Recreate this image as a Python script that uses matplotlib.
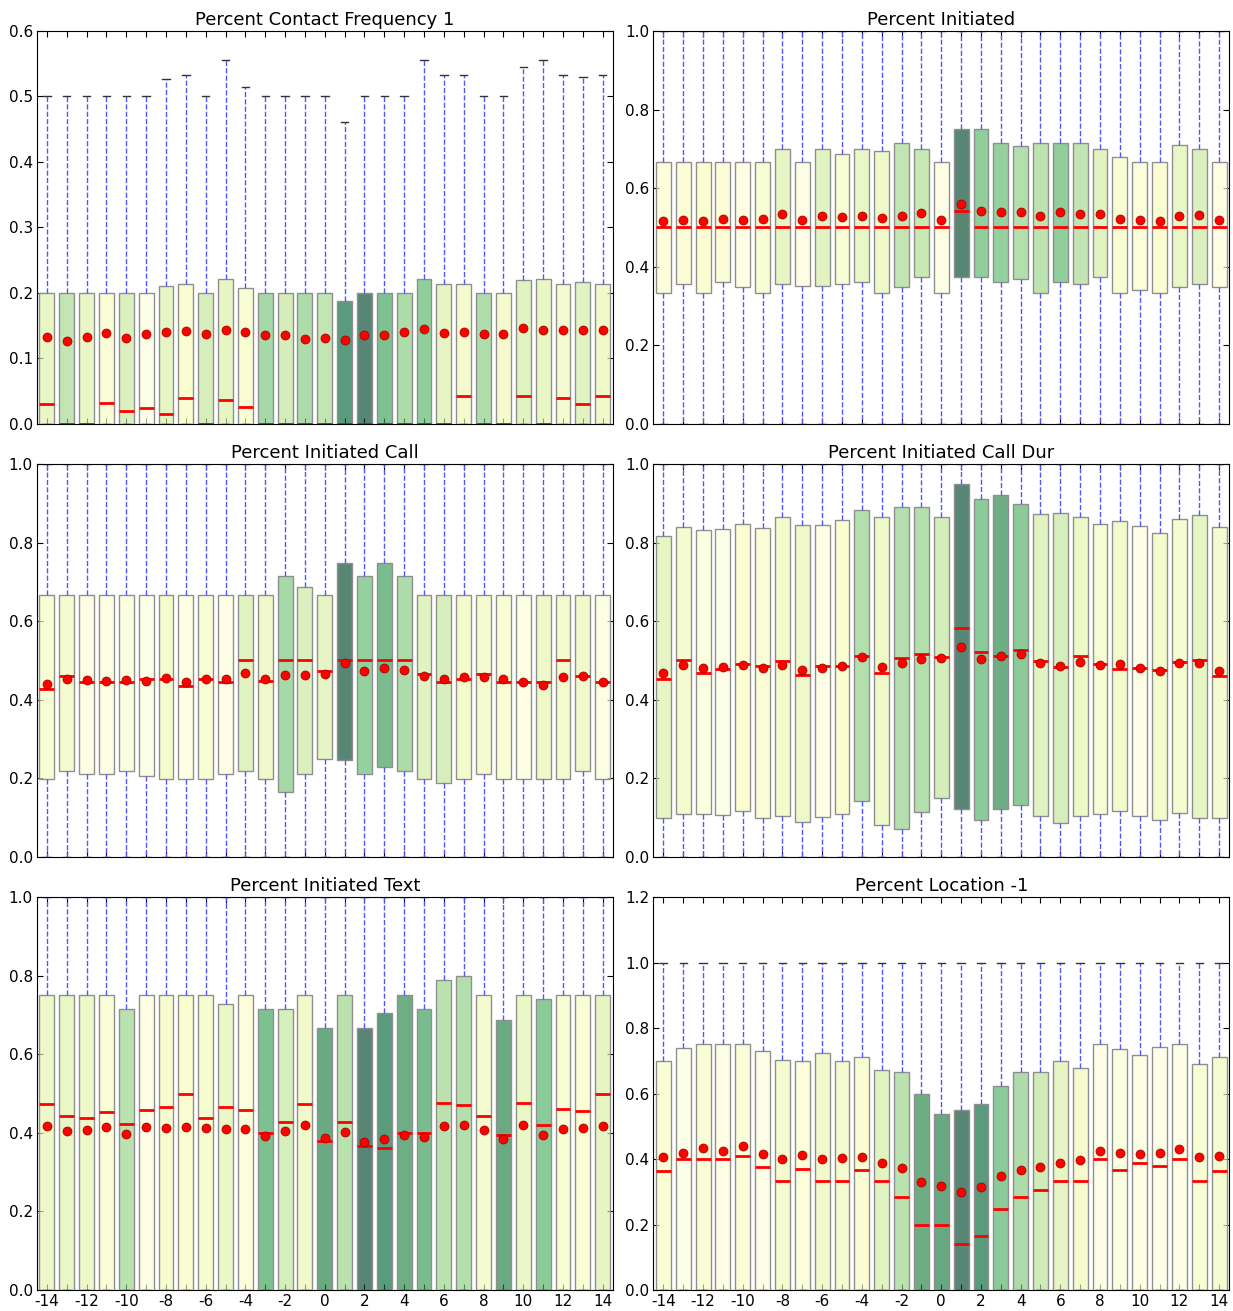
import numpy as np
import matplotlib
matplotlib.use("Agg")
import matplotlib.pyplot as plt
from matplotlib.colors import to_rgba

days = list(range(-14, 15))

# Percent Contact Frequency 1
cf_q1 = [0.0] * 29
cf_q3 = [0.2, 0.2, 0.2, 0.2, 0.2, 0.2, 0.211, 0.214, 0.2, 0.2215, 0.208, 0.2, 0.2, 0.2,
         0.2, 0.1875, 0.2, 0.2, 0.2, 0.2215, 0.214, 0.214, 0.2, 0.2, 0.2195, 0.2215, 0.214, 0.2165, 0.214]
cf_med = [0.031, 0.0, 0.0, 0.032, 0.02, 0.024, 0.015, 0.039, 0.0, 0.037, 0.026, 0.0, 0.0, 0.0,
          0.0, 0.0, 0.0, 0.0, 0.0, 0.0, 0.0, 0.042, 0.0, 0.0, 0.042, 0.0, 0.039, 0.031, 0.042]
cf_mean = [0.133, 0.126, 0.133, 0.139, 0.131, 0.137, 0.140, 0.142, 0.138, 0.144, 0.140, 0.135, 0.135, 0.130,
           0.131, 0.128, 0.136, 0.135, 0.141, 0.145, 0.139, 0.140, 0.137, 0.137, 0.146, 0.144, 0.143, 0.144, 0.144]
cf_lo = [0.0] * 29
cf_hi = [0.5, 0.5, 0.5, 0.5, 0.5, 0.5, 0.527, 0.533, 0.5, 0.555, 0.515, 0.5, 0.5, 0.5,
         0.5, 0.461, 0.5, 0.5, 0.5, 0.555, 0.533, 0.533, 0.5, 0.5, 0.545, 0.555, 0.533, 0.529, 0.533]
cf_shade = [0.23, 0.4, 0.23, 0.1, 0.3, 0.03, 0.25, 0.13, 0.32, 0.25, 0.12, 0.5, 0.33, 0.48,
            0.4, 0.88, 1.0, 0.66, 0.48, 0.58, 0.25, 0.15, 0.47, 0.15, 0.27, 0.23, 0.15, 0.27, 0.18]

# Percent Initiated
in_q1 = [0.333, 0.357, 0.333, 0.362, 0.349, 0.333, 0.357, 0.351, 0.351, 0.357, 0.362, 0.333, 0.349, 0.375,
         0.333, 0.375, 0.375, 0.362, 0.368, 0.333, 0.362, 0.357, 0.375, 0.333, 0.340, 0.333, 0.349, 0.357, 0.349]
in_q3 = [0.666, 0.666, 0.666, 0.666, 0.666, 0.666, 0.7, 0.666, 0.7, 0.687, 0.7, 0.695, 0.714, 0.7,
         0.666, 0.75, 0.75, 0.714, 0.707, 0.714, 0.714, 0.714, 0.7, 0.679, 0.666, 0.666, 0.71, 0.7, 0.666]
in_med = [0.5] * 15 + [0.5415] + [0.5] * 13
in_mean = [0.516, 0.519, 0.516, 0.522, 0.52, 0.522, 0.533, 0.52, 0.528, 0.527, 0.53, 0.525, 0.53, 0.5355,
           0.52, 0.56, 0.542, 0.539, 0.54, 0.53, 0.539, 0.534, 0.533, 0.522, 0.52, 0.517, 0.53, 0.532, 0.519]
in_lo = [0.0] * 29
in_hi = [1.0] * 29
in_shade = [0.08, 0.1, 0.13, 0.1, 0.05, 0.12, 0.25, 0.04, 0.27, 0.12, 0.23, 0.2, 0.4, 0.38,
            0.05, 1.0, 0.58, 0.56, 0.46, 0.42, 0.58, 0.4, 0.27, 0.12, 0.08, 0.13, 0.23, 0.3, 0.05]

# Percent Initiated Call
ca_q1 = [0.198, 0.22, 0.212, 0.212, 0.22, 0.2065, 0.198, 0.198, 0.198, 0.212, 0.22, 0.198, 0.165, 0.212,
         0.25, 0.248, 0.212, 0.229, 0.22, 0.198, 0.189, 0.198, 0.212, 0.198, 0.198, 0.198, 0.198, 0.22, 0.198]
ca_q3 = [0.666] * 12 + [0.7145, 0.687] + [0.666, 0.749, 0.7145, 0.749, 0.714] + [0.666] * 10
ca_med = [0.428, 0.461, 0.444, 0.444, 0.444, 0.454, 0.454, 0.436, 0.454, 0.444, 0.5, 0.449, 0.5, 0.5,
          0.473, 0.5, 0.5, 0.5, 0.5, 0.466, 0.444, 0.454, 0.466, 0.444, 0.444, 0.444, 0.5, 0.461, 0.444]
ca_mean = [0.439, 0.453, 0.450, 0.449, 0.450, 0.449, 0.455, 0.446, 0.452, 0.452, 0.468, 0.453, 0.462, 0.464,
           0.465, 0.4945, 0.473, 0.48, 0.476, 0.46, 0.454, 0.457, 0.458, 0.454, 0.444, 0.4375, 0.458, 0.46, 0.444]
ca_lo = [0.0] * 29
ca_hi = [1.0] * 29
ca_shade = [0.12, 0.15, 0.05, 0.05, 0.06, 0.03, 0.16, 0.05, 0.12, 0.04, 0.27, 0.2, 0.5, 0.3,
            0.25, 1.0, 0.56, 0.68, 0.48, 0.27, 0.32, 0.17, 0.15, 0.12, 0.05, 0.2, 0.17, 0.18, 0.05]

# Percent Initiated Call Dur
du_q1 = [0.099, 0.110, 0.110, 0.107, 0.118, 0.100, 0.103, 0.090, 0.101, 0.110, 0.143, 0.082, 0.070, 0.1155,
         0.151, 0.123, 0.093, 0.121, 0.133, 0.1045, 0.0875, 0.1045, 0.110, 0.118, 0.105, 0.093, 0.111, 0.099, 0.100]
du_q3 = [0.818, 0.840, 0.831, 0.835, 0.847, 0.838, 0.864, 0.844, 0.844, 0.857, 0.884, 0.864, 0.890, 0.890,
         0.864, 0.948, 0.911, 0.922, 0.899, 0.872, 0.875, 0.864, 0.847, 0.854, 0.842, 0.824, 0.860, 0.870, 0.840]
du_med = [0.452, 0.5, 0.469, 0.479, 0.490, 0.486, 0.498, 0.463, 0.486, 0.486, 0.512, 0.469, 0.506, 0.517,
          0.508, 0.583, 0.5225, 0.512, 0.527, 0.4996, 0.483, 0.5106, 0.492, 0.4775, 0.480, 0.476, 0.495, 0.5, 0.461]
du_mean = [0.468, 0.4885, 0.480, 0.4826, 0.489, 0.481, 0.489, 0.475, 0.4817, 0.4868, 0.509, 0.484, 0.4936, 0.5038,
           0.507, 0.5335, 0.504, 0.511, 0.5157, 0.4945, 0.4868, 0.497, 0.4885, 0.491, 0.4817, 0.474, 0.4928, 0.4945, 0.474]
du_lo = [0.0] * 29
du_hi = [1.0] * 29
du_shade = [0.25, 0.15, 0.06, 0.03, 0.13, 0.1, 0.17, 0.2, 0.05, 0.13, 0.46, 0.2, 0.46, 0.46,
            0.33, 1.0, 0.6, 0.75, 0.6, 0.27, 0.32, 0.2, 0.12, 0.17, 0.04, 0.16, 0.14, 0.25, 0.15]

# Percent Initiated Text
tx_q1 = [0.0] * 29
tx_q3 = [0.75, 0.75, 0.75, 0.75, 0.714, 0.75, 0.75, 0.75, 0.75, 0.729, 0.75, 0.714, 0.714, 0.75,
         0.666, 0.75, 0.666, 0.705, 0.75, 0.714, 0.79, 0.80, 0.75, 0.6876, 0.75, 0.74, 0.75, 0.75, 0.75]
tx_med = [0.473, 0.444, 0.439, 0.454, 0.423, 0.459, 0.466, 0.5, 0.438, 0.466, 0.459, 0.4, 0.428, 0.473,
          0.378, 0.4287, 0.3667, 0.3625, 0.399, 0.399, 0.477, 0.470, 0.444, 0.394, 0.475, 0.421, 0.461, 0.456, 0.5]
tx_mean = [0.418, 0.404, 0.4075, 0.415, 0.3964, 0.415, 0.4134, 0.415, 0.4117, 0.411, 0.411, 0.393, 0.404, 0.419,
           0.386, 0.4024, 0.3778, 0.3837, 0.3956, 0.3888, 0.4177, 0.42, 0.4066, 0.3854, 0.42, 0.3947, 0.409, 0.4117, 0.4185]
tx_lo = [0.0] * 29
tx_hi = [1.0] * 29
tx_shade = [0.2, 0.23, 0.2, 0.1, 0.43, 0.04, 0.14, 0.13, 0.14, 0.22, 0.08, 0.66, 0.32, 0.18,
            0.78, 0.43, 1.0, 0.88, 0.75, 0.68, 0.43, 0.46, 0.15, 0.78, 0.22, 0.6, 0.12, 0.12, 0.25]

# Percent Location -1
lo_q1 = [0.0] * 29
lo_q3 = [0.7, 0.7385, 0.75, 0.75, 0.75, 0.729, 0.701, 0.698, 0.725, 0.698, 0.713, 0.672, 0.665, 0.598,
         0.537, 0.55, 0.569, 0.623, 0.665, 0.665, 0.698, 0.677, 0.75, 0.735, 0.718, 0.7406, 0.75, 0.6896, 0.713]
lo_med = [0.3626, 0.4, 0.4, 0.4, 0.4105, 0.375, 0.332, 0.3687, 0.332, 0.332, 0.3667, 0.332, 0.2852, 0.2,
          0.2, 0.1396, 0.166, 0.2486, 0.285, 0.3056, 0.332, 0.332, 0.4, 0.3667, 0.388, 0.38, 0.4, 0.332, 0.3626]
lo_mean = [0.4075, 0.4187, 0.435, 0.4248, 0.44, 0.4156, 0.4003, 0.4125, 0.4013, 0.4024, 0.4075, 0.387, 0.3718, 0.33,
           0.3178, 0.2995, 0.3158, 0.3484, 0.3657, 0.3769, 0.387, 0.3962, 0.4258, 0.4177, 0.4156, 0.4197, 0.431, 0.4054, 0.4095]
lo_lo = [0.0] * 29
lo_hi = [1.0] * 29
lo_shade = [0.12, 0.03, 0.1, 0.04, 0.09, 0.04, 0.15, 0.08, 0.18, 0.15, 0.11, 0.27, 0.43, 0.76,
            0.8, 1.0, 0.88, 0.6, 0.48, 0.35, 0.25, 0.15, 0.04, 0.06, 0.05, 0.03, 0.05, 0.12, 0.14]

panels = [
    ("Percent Contact Frequency 1", cf_q1, cf_q3, cf_med, cf_mean, cf_lo, cf_hi, cf_shade, 0.6, 0.1),
    ("Percent Initiated", in_q1, in_q3, in_med, in_mean, in_lo, in_hi, in_shade, 1.0, 0.2),
    ("Percent Initiated Call", ca_q1, ca_q3, ca_med, ca_mean, ca_lo, ca_hi, ca_shade, 1.0, 0.2),
    ("Percent Initiated Call Dur", du_q1, du_q3, du_med, du_mean, du_lo, du_hi, du_shade, 1.0, 0.2),
    ("Percent Initiated Text", tx_q1, tx_q3, tx_med, tx_mean, tx_lo, tx_hi, tx_shade, 1.0, 0.2),
    ("Percent Location -1", lo_q1, lo_q3, lo_med, lo_mean, lo_lo, lo_hi, lo_shade, 1.2, 0.2),
]

cmap = plt.get_cmap("YlGn")

fig, axes = plt.subplots(3, 2, figsize=(12.33, 13.11), dpi=100)
fig.patch.set_facecolor("white")
fig.subplots_adjust(left=0.030, right=0.9968, top=0.9764, bottom=0.016, wspace=0.071, hspace=0.102)

for i, (title, q1, q3, med, mean, lo, hi, shade, ymax, ystep) in enumerate(panels):
    ax = axes.flat[i]
    stats = []
    for j in range(len(days)):
        stats.append(dict(med=med[j], q1=q1[j], q3=q3[j], whislo=lo[j], whishi=hi[j],
                          mean=mean[j], fliers=[]))
    bp = ax.bxp(stats, positions=days, widths=0.75, patch_artist=True, showmeans=True,
                boxprops=dict(edgecolor="#8f8f8f", linewidth=1.0),
                whiskerprops=dict(color="#5555ff", linestyle="--", linewidth=1.0),
                capprops=dict(color="#333333", linewidth=1.0),
                medianprops=dict(color="red", linewidth=2),
                meanprops=dict(marker="o", markerfacecolor="red", markeredgecolor="#990000",
                               markeredgewidth=0.5, markersize=6.5))
    for box, s in zip(bp["boxes"], shade):
        box.set_facecolor(to_rgba(cmap(s), 0.65))
    ax.set_xlim(-14.5, 14.5)
    ax.set_ylim(0, ymax)
    ax.set_yticks(np.arange(0, ymax + ystep / 2, ystep))
    ax.set_yticklabels(["%.1f" % v for v in np.arange(0, ymax + ystep / 2, ystep)])
    ax.set_xticks(days)
    if i >= 4:
        ax.set_xticklabels([str(d) if d % 2 == 0 else "" for d in days])
    else:
        ax.set_xticklabels([])
    ax.tick_params(direction="in", top=True, right=True, labelsize=11, length=4, pad=3)
    ax.set_title(title, fontsize=13, pad=4)

fig.savefig("out.png", dpi=100, facecolor="white")
